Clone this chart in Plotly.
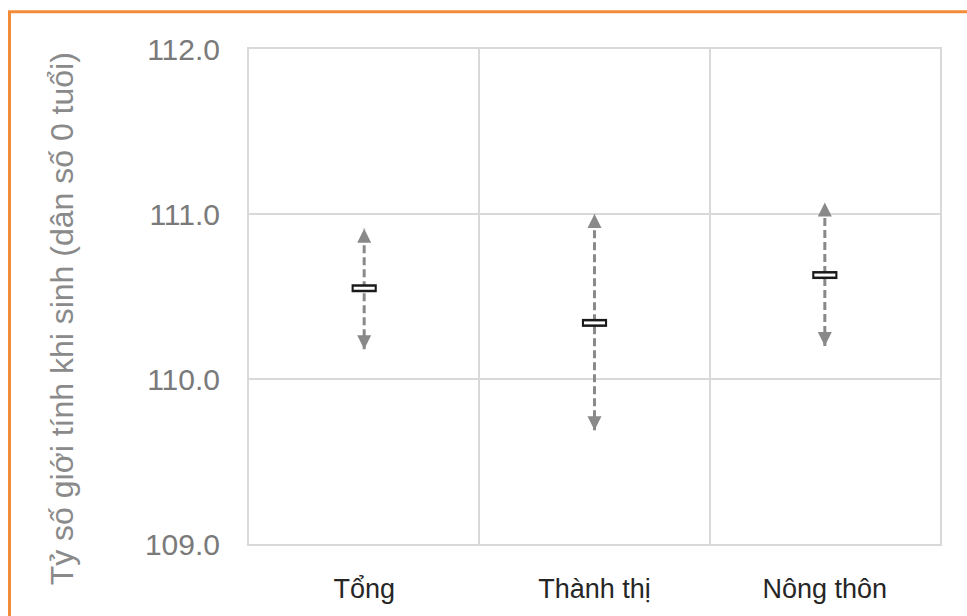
import plotly.graph_objects as go

categories = ["Tổng", "Thành thị", "Nông thôn"]
estimate = [110.55, 110.34, 110.63]
lower = [110.18, 109.69, 110.20]
upper = [110.91, 111.00, 111.07]
y_ticks = [109.0, 110.0, 111.0, 112.0]
y_title = "Tỷ số giới tính khi sinh (dân số 0 tuổi)"

GRAY = "#898989"
GRID = "#d9d9d9"

fig = go.Figure()

# dashed interval lines
for c, lo, hi in zip(categories, lower, upper):
    fig.add_trace(go.Scatter(
        x=[c, c], y=[lo, hi], mode="lines",
        line=dict(color=GRAY, width=3, dash="8px,4px"),
        hoverinfo="skip", showlegend=False))

# arrow heads
fig.add_trace(go.Scatter(
    x=categories, y=upper, mode="markers",
    marker=dict(symbol="arrow-up", size=14, color=GRAY, line=dict(width=0)),
    showlegend=False))
fig.add_trace(go.Scatter(
    x=categories, y=lower, mode="markers",
    marker=dict(symbol="arrow-down", size=14, color=GRAY, line=dict(width=0)),
    showlegend=False))

# point estimate: small open rectangle
fig.add_trace(go.Scatter(
    x=categories, y=estimate, mode="markers",
    marker=dict(symbol="line-ew", size=18, line=dict(color="#1a1a1a", width=8)),
    showlegend=False))
fig.add_trace(go.Scatter(
    x=categories, y=estimate, mode="markers",
    marker=dict(symbol="line-ew", size=15, line=dict(color="#ffffff", width=3)),
    showlegend=False))

L, R, T, B = 249, 27, 49, 69
W, H = 967, 616
pw, ph = W - L - R, H - T - B

def px2x(px):
    return (px - L) / pw

def py2y(py):
    return (H - B - py) / ph

fig.update_layout(
    width=W, height=H,
    margin=dict(l=L, r=R, t=T, b=B),
    paper_bgcolor="white", plot_bgcolor="white",
    font=dict(family="Liberation Sans, Arial, sans-serif"),
    showlegend=False,
    xaxis=dict(
        type="category", categoryorder="array", categoryarray=categories,
        range=[-0.5, 2.5], tickson="boundaries",
        showgrid=True, gridcolor=GRID, gridwidth=2,
        showline=True, linecolor=GRID, linewidth=2, mirror=True,
        ticks="", ticklabelstandoff=20,
        tickfont=dict(size=27, color="#262626"), zeroline=False,
    ),
    yaxis=dict(
        range=[109, 112], tickvals=y_ticks, tickformat=".1f",
        showgrid=True, gridcolor=GRID, gridwidth=2,
        showline=True, linecolor=GRID, linewidth=2, mirror=True,
        ticks="", ticklabelstandoff=21,
        tickfont=dict(size=30, color="#7a7a7a"), zeroline=False,
    ),
    annotations=[dict(
        text=y_title, textangle=-90, showarrow=False,
        xref="paper", yref="paper", x=px2x(62), y=py2y(320),
        xanchor="center", yanchor="middle",
        font=dict(size=32, color="#8a8a8a"),
    )],
    shapes=[dict(
        type="rect", xref="paper", yref="paper",
        x0=px2x(9.5), x1=px2x(980), y0=py2y(11.5), y1=py2y(640),
        line=dict(color="#f28c38", width=3), fillcolor="rgba(0,0,0,0)",
        layer="above",
    )],
)

fig.write_html("out.html")
